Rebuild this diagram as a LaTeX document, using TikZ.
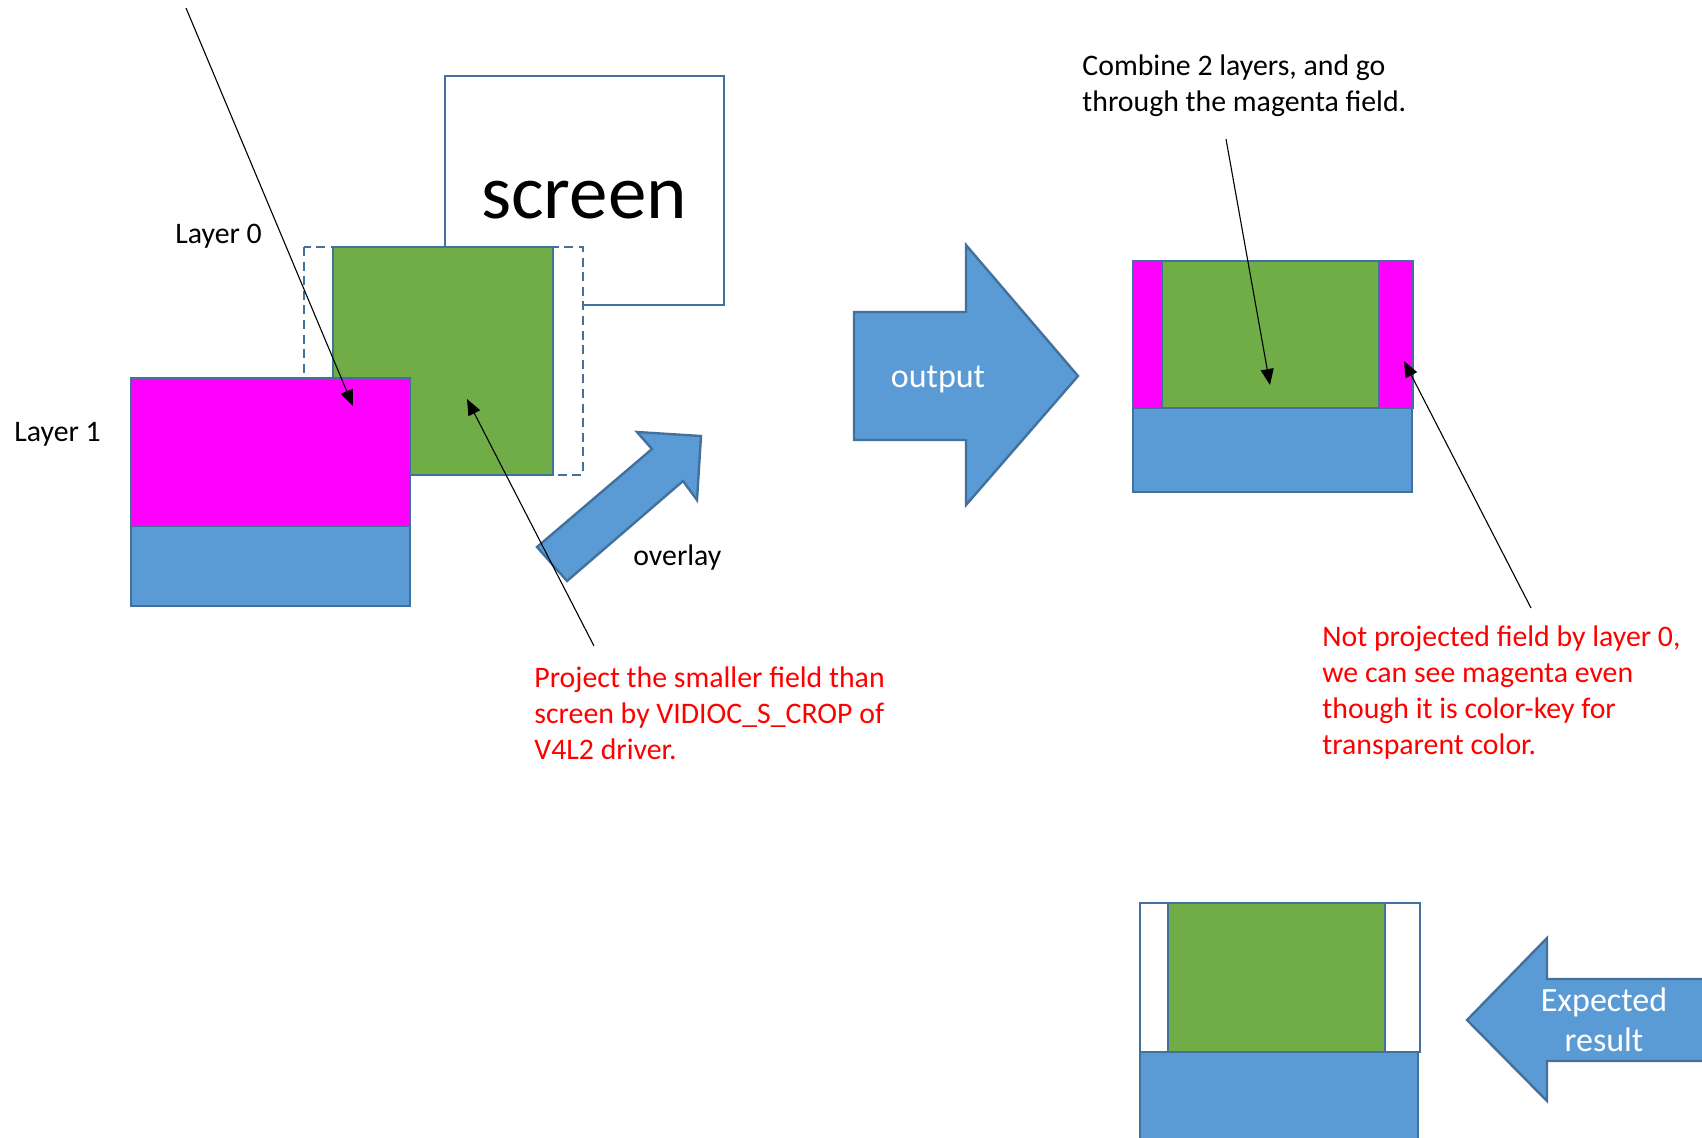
\documentclass[tikz,border=0pt]{standalone}
\usepackage{fontspec}
\setmainfont{Carlito}
\usetikzlibrary{arrows.meta}
\definecolor{bfill}{HTML}{5B9BD5}
\definecolor{bline}{HTML}{41719C}
\definecolor{gfill}{HTML}{70AD47}
\definecolor{mfill}{HTML}{FF00FF}
\definecolor{rtext}{HTML}{FF0000}
\tikzset{
  shapeline/.style={draw=bline, line width=1.2pt},
  blockarrow/.style={fill=bfill, draw=bline, line width=1.2pt, line join=miter},
  note/.style={-{Triangle[length=8pt,width=6.5pt]}, line width=0.55pt, black},
  txt/.style={font=\fontsize{14.9}{18}\selectfont, inner sep=0pt, align=left},
  bigtxt/.style={font=\fontsize{17}{20}\selectfont, inner sep=0pt, align=center, text=white},
}
\begin{document}
\begin{tikzpicture}[x=0.5pt, y=-0.5pt]
\useasboundingbox (0,0) rectangle (1702,1137);
\clip (0,0) rectangle (1702,1137);
\fill[white] (0,0) rectangle (1702,1137);
% screen
\draw[shapeline, fill=white] (445,76) rectangle (724,305);
\node[font=\fontsize{38.5}{44}\selectfont, inner sep=0pt] (scr) at (584,200) {screen};
% layer 0 (dashed) and green
\draw[draw=bline, line width=1.2pt, dash pattern=on 4.5pt off 2.8pt, fill=white] (304,247) rectangle (583,475);
\draw[shapeline, fill=gfill] (333,247) rectangle (553,475);
% layer 1
\draw[shapeline, fill=mfill] (131,378) rectangle (410,526);
\draw[shapeline, fill=bfill] (131,526) rectangle (410,606);
\node[txt, anchor=base west] (l0) at (175,243) {Layer 0};
\node[txt, anchor=base west] (l1) at (14,441) {Layer 1};
% overlay arrow
\draw[blockarrow] (537,547) -- (652,449) -- (637,432) -- (701,436) -- (697,500) -- (683,481) -- (567,581) -- cycle;
\node[txt, anchor=base west] (ov) at (633,565) {overlay};
% output arrow
\draw[blockarrow] (854,312) -- (966,312) -- (966,245) -- (1078,376) -- (966,505) -- (966,440) -- (854,440) -- cycle;
\node[bigtxt] (out) at (938,379) {output};
% combined result
\draw[shapeline, fill=mfill] (1133,261) rectangle (1162,408);
\draw[shapeline, fill=mfill] (1379,261) rectangle (1413,408);
\draw[shapeline, fill=gfill] (1162,261) rectangle (1379,408);
\draw[shapeline, fill=bfill] (1133,408) rectangle (1412,492);
% expected result
\draw[shapeline, fill=white] (1140,903) rectangle (1168,1052);
\draw[shapeline, fill=white] (1385,903) rectangle (1420,1052);
\draw[shapeline, fill=gfill] (1168,903) rectangle (1385,1052);
\draw[shapeline, fill=bfill] (1140,1052) rectangle (1418,1145);
\draw[blockarrow] (1467,1020) -- (1547,938) -- (1547,979) -- (1712,979) -- (1712,1061) -- (1547,1061) -- (1547,1101) -- cycle;
\node[bigtxt] (exp) at (1604,1020) {Expected\\result};
% texts
\node[txt, anchor=north west] (comb) at (1082,54) {Combine 2 layers, and go\\through the magenta field.};
\node[txt, anchor=north west, text=rtext] (proj) at (534,666) {Project the smaller field than\\screen by VIDIOC\_S\_CROP of\\V4L2 driver.};
\node[txt, anchor=north west, text=rtext] (notp) at (1322,625) {Not projected field by layer 0,\\we can see magenta even\\though it is color-key for\\transparent color.};
% annotation arrows
\coordinate (a1s) at (186,8);   \coordinate (a1e) at (353,406);
\coordinate (a2s) at (594,646); \coordinate (a2e) at (467,399);
\coordinate (a3s) at (1226,139); \coordinate (a3e) at (1270,385);
\coordinate (a4s) at (1531,608); \coordinate (a4e) at (1404,361);
\draw[note] (a1s) -- (a1e);
\draw[note] (a2s) -- (a2e);
\draw[note] (a3s) -- (a3e);
\draw[note] (a4s) -- (a4e);
\end{tikzpicture}
\end{document}
